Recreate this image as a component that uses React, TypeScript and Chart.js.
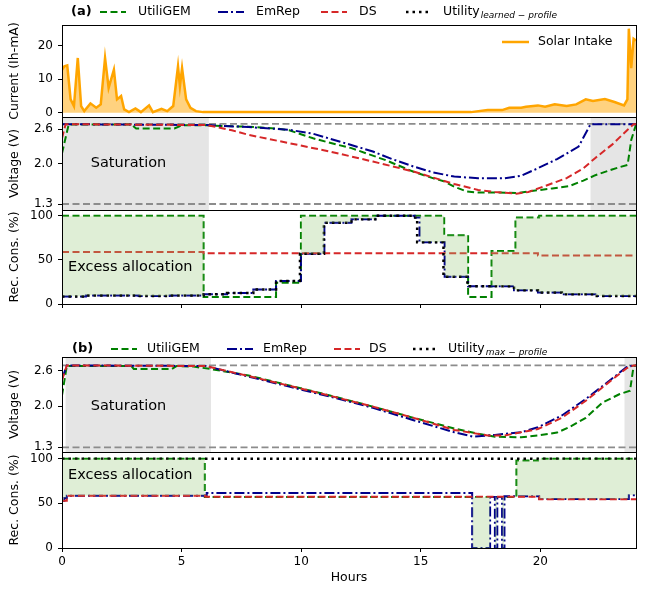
import React, { useEffect, useRef } from "react";
import { Chart, registerables } from "chart.js";
Chart.register(...registerables);

const W = 646;
const H = 592;
const X_LEFT = 62;
const X_RIGHT = 636;
const FONT = "'DejaVu Sans', sans-serif";

// ---------- data ----------
const xTickValues = [0, 5, 10, 15, 20];
const currentTicks = [0, 10, 20];
const voltageTicks = [1.3, 2.0, 2.6];
const recTicks = [0, 50, 100];

const solarHours = [0, 0.1, 0.22, 0.36, 0.5, 0.66, 0.8, 0.93, 1.19, 1.43, 1.62, 1.8, 1.95, 2.17, 2.3, 2.47, 2.6, 2.8, 3.07, 3.3, 3.64, 3.8, 4.16, 4.4, 4.65, 4.85, 4.93, 5.02, 5.19, 5.37, 5.6, 5.9, 8, 12, 16, 17.1, 17.8, 18.4, 18.7, 19.2, 19.4, 19.9, 20.2, 20.6, 21.1, 21.5, 21.9, 22.2, 22.7, 23.1, 23.5, 23.64, 23.7, 23.8, 23.9, 24];
const solarCurrent = [12.8, 13.8, 14.1, 4, 2, 16.3, 2, 0.5, 2.8, 1.5, 2.5, 16.3, 7.4, 12.8, 4, 5, 1, 0.2, 1.3, 0.2, 2.2, 0.2, 1.2, 0.5, 2, 13.8, 7.9, 13.3, 4, 1.5, 0.5, 0.2, 0.2, 0.2, 0.2, 0.2, 0.8, 0.8, 1.5, 1.5, 1.8, 2.2, 1.8, 2.5, 2, 2.5, 4, 3.5, 4.1, 3.2, 2.2, 4, 25, 13.3, 22, 21.5];

const vLimits = [1.3, 2.69];
const saturationA = [[0, 6.14], [22.1, 24]];
const saturationB = [[0.15, 6.23], [23.52, 24]];

const voltAUtiliGEM = [[0, 2.18], [0.28, 2.68], [2.9, 2.68], [3.1, 2.61], [4.7, 2.61], [5.0, 2.665], [6.05, 2.665], [7.8, 2.64], [9.0, 2.61], [9.5, 2.58], [10.5, 2.44], [11.5, 2.33], [12.1, 2.27], [13.5, 2.066], [14.7, 1.86], [15.5, 1.75], [16.0, 1.69], [16.4, 1.6], [16.9, 1.52], [17.3, 1.5], [18.1, 1.5], [19.0, 1.49], [19.9, 1.54], [20.5, 1.57], [21.2, 1.61], [21.8, 1.706], [22.3, 1.8], [23.0, 1.9], [23.65, 1.98], [23.8, 2.41], [24, 2.68]];
const voltAEmRep = [[0, 2.685], [6.05, 2.67], [7.8, 2.635], [9.5, 2.588], [10.5, 2.519], [11.6, 2.385], [13.0, 2.211], [13.8, 2.08], [14.7, 1.95], [15.5, 1.85], [16.4, 1.776], [17.4, 1.747], [18.5, 1.747], [19.2, 1.79], [19.9, 1.921], [20.7, 2.08], [21.6, 2.298], [22.1, 2.685], [24, 2.685]];
const voltADS = [[0, 2.44], [0.15, 2.685], [6.05, 2.67], [7.1, 2.58], [7.8, 2.5], [9.5, 2.356], [11.2, 2.211], [13.0, 2.037], [14.7, 1.863], [16.4, 1.648], [17.4, 1.544], [18.1, 1.51], [19.0, 1.48], [19.5, 1.51], [20.2, 1.613], [21.1, 1.75], [21.8, 1.92], [22.3, 2.1], [23.0, 2.33], [23.65, 2.59], [23.9, 2.685], [24, 2.685]];

const recAUtiliGEM = [[0, 100], [5.92, 8], [8.95, 24], [9.99, 100], [15.98, 78], [16.98, 8], [17.96, 60], [18.96, 98], [19.95, 100], [24, 100]];
const recAEmRep = [[0, 8.5], [1.0, 9.5], [3.2, 9], [4.5, 9.5], [5.92, 11], [6.9, 12.5], [8.0, 16.5], [8.95, 26], [9.99, 57], [10.97, 92], [12.1, 96], [13.1, 100], [14.75, 98], [14.95, 70], [16.0, 31], [16.98, 20], [18.9, 15.5], [19.9, 13], [20.9, 11], [22.3, 9], [24, 9]];
const recADS = [[0, 59], [5.92, 57.5], [19.9, 55], [24, 55]];
const recAUtility = [[0, 8.5], [1.0, 9.5], [3.2, 9], [4.5, 9.5], [5.92, 11], [6.9, 12.5], [8.0, 16.5], [8.95, 26], [9.95, 57], [10.95, 92], [12.1, 96], [13.1, 100], [14.7, 98], [14.85, 70], [15.95, 31], [16.95, 20], [18.9, 15.5], [19.9, 13], [20.9, 11], [22.3, 9], [24, 9]];

const voltBUtiliGEM = [[0, 2.18], [0.2, 2.68], [2.9, 2.68], [3.0, 2.63], [4.6, 2.63], [4.8, 2.68], [5.5, 2.67], [6.2, 2.63], [7.8, 2.52], [9.5, 2.35], [11.2, 2.18], [13.0, 1.99], [14.7, 1.8], [16.4, 1.62], [17.4, 1.53], [18.1, 1.48], [19.2, 1.47], [19.9, 1.5], [20.7, 1.55], [21.2, 1.64], [21.9, 1.8], [22.6, 2.06], [23.3, 2.2], [23.75, 2.26], [23.9, 2.68], [24, 2.69]];
const voltBEmRep = [[0, 2.46], [0.2, 2.69], [6.0, 2.68], [7.8, 2.5], [9.5, 2.33], [11.2, 2.16], [13.0, 1.97], [14.7, 1.76], [16.4, 1.555], [17.2, 1.48], [18.1, 1.51], [19.2, 1.555], [19.9, 1.64], [20.9, 1.84], [21.9, 2.12], [22.7, 2.37], [23.6, 2.66], [23.9, 2.69], [24, 2.69]];
const voltBDS = [[0, 2.44], [0.2, 2.69], [6.0, 2.68], [7.8, 2.51], [9.5, 2.345], [11.2, 2.175], [13.0, 1.99], [14.7, 1.8], [16.4, 1.595], [17.8, 1.5], [18.5, 1.5], [19.9, 1.61], [20.9, 1.8], [21.9, 2.09], [22.7, 2.35], [23.6, 2.64], [23.9, 2.69], [24, 2.69]];

const recBUtiliGEM = [[0, 100], [5.97, 57], [19.0, 98], [19.9, 100], [24, 100]];
const recBEmRep = [[0, 53], [0.1, 56], [0.2, 58.6], [6.05, 61.5], [17.15, 0], [17.9, 57], [18.1, 0], [18.2, 57], [18.4, 0], [18.5, 58], [19.95, 55], [23.7, 59], [24, 59]];
const recBDS = [[0, 53], [0.2, 58.6], [6.0, 57.5], [19.95, 54.5], [24, 54.5]];
const recBUtility = [[0, 100], [24, 100]];

// ---------- styles ----------
const GREEN = "#008000";
const BLUE = "#00008b";
const RED = "#d62728";
const ORANGE = "#ffa500";
const GRAY = "#8c8c8c";
const DASH = [7, 3.5];
const DASHDOT = [10, 3, 2, 3];
const DOT = [2.5, 4];
const EXCESS = "rgba(150,200,120,0.3)";
const SAT = "#e5e5e5";

const pts = (a: number[][]) => a.map(([x, y]) => ({ x, y }));
const ln = (data: number[][], color: string, dash: number[], width = 2, extra: any = {}) => ({
  data: pts(data), borderColor: color, borderDash: dash, borderWidth: width, pointRadius: 0, fill: false, ...extra,
});
const limitLine = (v: number) => ln([[0, v], [24, v]], GRAY, [7, 3.5], 1.8);

type Panel = {
  top: number; bottom: number; ymin: number; ymax: number; yticks: number[]; dec: number;
  ytitle: string; xMode: "none" | "marks" | "labels"; datasets: any[];
  shading?: number[][]; texts?: { t: string; x: number; y: number }[]; legend?: "a" | "b";
};

const font = (s: number, extra = "") => `${extra}${s}px ${FONT}`;

function drawLegend(ctx: CanvasRenderingContext2D, which: "a" | "b") {
  const y = which === "a" ? 12 : 349;
  const pos = which === "a"
    ? { tag: 71, g: [100, 138], b: [218, 256], r: [321, 359], k: [406, 443] }
    : { tag: 72, g: [111, 147], b: [227, 263], r: [334, 369], k: [413, 448] };
  ctx.save();
  ctx.fillStyle = "#000";
  ctx.textBaseline = "middle";
  ctx.textAlign = "left";
  ctx.font = font(13, "bold ");
  ctx.fillText(which === "a" ? "(a)" : "(b)", pos.tag, y);
  const item = (p: number[], color: string, dash: number[], w: number, label: string) => {
    ctx.save();
    ctx.strokeStyle = color; ctx.lineWidth = w; ctx.setLineDash(dash);
    ctx.beginPath(); ctx.moveTo(p[0], y); ctx.lineTo(p[0] + 26, y); ctx.stroke();
    ctx.restore();
    ctx.font = font(12.5);
    ctx.fillText(label, p[1], y);
    return ctx.measureText(label).width;
  };
  item(pos.g, GREEN, DASH, 2, "UtiliGEM");
  item(pos.b, BLUE, DASHDOT, 2, "EmRep");
  item(pos.r, RED, DASH, 2, "DS");
  const w = item(pos.k, "#000", DOT, 2.5, "Utility");
  ctx.font = font(9, "italic ");
  ctx.fillText(which === "a" ? "learned \u2212 profile" : "max \u2212 profile", pos.k[1] + w + 1, y + 4);
  ctx.restore();
}

function makeChart(canvas: HTMLCanvasElement, p: Panel) {
  const xHeight = p.xMode === "labels" ? H - p.bottom : 0;
  const bottomPad = p.xMode === "labels" ? 0 : H - p.bottom;
  const panelPlugin = {
    id: "panelDeco",
    beforeDatasetsDraw(chart: any) {
      if (!p.shading) return;
      const { ctx, chartArea: a, scales } = chart;
      ctx.save();
      ctx.fillStyle = SAT;
      for (const [s, e] of p.shading) {
        const x0 = scales.x.getPixelForValue(s);
        const x1 = scales.x.getPixelForValue(e);
        ctx.fillRect(x0, a.top, x1 - x0, a.bottom - a.top);
      }
      ctx.restore();
    },
    afterDatasetsDraw(chart: any) {
      const { ctx, scales } = chart;
      if (p.texts) {
        ctx.save();
        ctx.fillStyle = "#000";
        ctx.font = font(14.5);
        ctx.textBaseline = "middle";
        ctx.textAlign = "left";
        for (const t of p.texts) ctx.fillText(t.t, scales.x.getPixelForValue(t.x), scales.y.getPixelForValue(t.y));
        ctx.restore();
      }
    },
    afterDraw(chart: any) {
      const { ctx, chartArea: a } = chart;
      ctx.save();
      ctx.strokeStyle = "#000";
      ctx.lineWidth = 1;
      ctx.strokeRect(Math.round(a.left) + 0.5, Math.round(a.top) + 0.5, Math.round(a.right - a.left), Math.round(a.bottom - a.top));
      ctx.restore();
      if (p.legend) drawLegend(ctx, p.legend);
      if (p.legend === "a") {
        ctx.save();
        ctx.strokeStyle = ORANGE; ctx.lineWidth = 2.5;
        ctx.beginPath(); ctx.moveTo(502, 42); ctx.lineTo(529, 42); ctx.stroke();
        ctx.fillStyle = "#000"; ctx.font = font(12.5); ctx.textBaseline = "middle";
        ctx.fillText("Solar Intake", 538, 42);
        ctx.restore();
      }
    },
  };
  return new Chart(canvas, {
    type: "line",
    data: { datasets: p.datasets },
    options: {
      responsive: false,
      animation: false,
      devicePixelRatio: 1,
      events: [],
      layout: { padding: { left: 0, right: W - X_RIGHT, top: p.top, bottom: bottomPad } },
      plugins: { legend: { display: false }, tooltip: { enabled: false } },
      elements: { point: { radius: 0 }, line: { tension: 0 } },
      scales: {
        x: {
          type: "linear", min: 0, max: 24,
          afterFit: (s: any) => { s.height = xHeight; },
          afterBuildTicks: (s: any) => { s.ticks = xTickValues.map((v) => ({ value: v })); },
          grid: { display: p.xMode !== "none", drawOnChartArea: false, drawTicks: true, tickLength: 4, color: "#000" },
          border: { display: false },
          ticks: { display: p.xMode === "labels", font: { family: FONT, size: 12 }, color: "#000", padding: 3, maxRotation: 0, autoSkip: false },
          title: { display: p.xMode === "labels", text: "Hours", font: { family: FONT, size: 12.5 }, color: "#000", padding: { top: 0, bottom: 7 } },
        },
        y: {
          type: "linear", min: p.ymin, max: p.ymax,
          afterFit: (s: any) => { s.width = X_LEFT; },
          afterBuildTicks: (s: any) => { s.ticks = p.yticks.map((v) => ({ value: v })); },
          grid: { drawOnChartArea: false, drawTicks: true, tickLength: 4, color: "#000" },
          border: { display: false },
          ticks: { font: { family: FONT, size: 12 }, color: "#000", padding: 5, callback: (v: any) => Number(v).toFixed(p.dec) },
          title: { display: true, text: p.ytitle, font: { family: FONT, size: 12.5 }, color: "#000", padding: { top: 7, bottom: 0 } },
        },
      },
    } as any,
    plugins: [panelPlugin],
  });
}

const PANELS: Panel[] = [
  {
    top: 25, bottom: 117, ymin: -1.25, ymax: 26.1, yticks: currentTicks, dec: 0, ytitle: "Current (Ih-mA)", xMode: "none", legend: "a",
    datasets: [
      { data: solarHours.map((h, i) => ({ x: h, y: solarCurrent[i] })), borderColor: ORANGE, borderWidth: 2.5, pointRadius: 0, fill: "origin", backgroundColor: "rgba(255,165,0,0.5)" },
    ],
  },
  {
    top: 117, bottom: 210, ymin: 1.196, ymax: 2.81, yticks: voltageTicks, dec: 1, ytitle: "Voltage (V)", xMode: "none",
    shading: saturationA, texts: [{ t: "Saturation", x: 1.2, y: 2.0 }],
    datasets: [
      ln(voltADS, RED, DASH),
      ln(voltAEmRep, BLUE, DASHDOT),
      ln(voltAUtiliGEM, GREEN, DASH),
      limitLine(vLimits[1]),
      limitLine(vLimits[0]),
    ],
  },
  {
    top: 210, bottom: 304, ymin: 0, ymax: 106.5, yticks: recTicks, dec: 0, ytitle: "Rec. Cons. (%)", xMode: "marks",
    texts: [{ t: "Excess allocation", x: 0.25, y: 42 }],
    datasets: [
      ln(recAUtiliGEM, "rgba(0,0,0,0)", [], 1, { stepped: true, fill: { target: 3, above: EXCESS, below: "rgba(0,0,0,0)" } }),
      ln(recAUtility, "#000", DOT, 2.5, { stepped: true }),
      ln(recADS, RED, DASH, 2, { stepped: true }),
      ln(recAEmRep, BLUE, DASHDOT, 2, { stepped: true }),
      ln(recAUtiliGEM, GREEN, DASH, 2, { stepped: true }),
    ],
  },
  {
    top: 357, bottom: 452, ymin: 1.22, ymax: 2.833, yticks: voltageTicks, dec: 1, ytitle: "Voltage (V)", xMode: "none", legend: "b",
    shading: saturationB, texts: [{ t: "Saturation", x: 1.2, y: 2.0 }],
    datasets: [
      ln(voltBDS, RED, DASH),
      ln(voltBEmRep, BLUE, DASHDOT),
      ln(voltBUtiliGEM, GREEN, DASH),
      limitLine(vLimits[1]),
      limitLine(vLimits[0]),
    ],
  },
  {
    top: 452, bottom: 548, ymin: 0, ymax: 107.5, yticks: recTicks, dec: 0, ytitle: "Rec. Cons. (%)", xMode: "labels",
    texts: [{ t: "Excess allocation", x: 0.25, y: 82 }],
    datasets: [
      ln(recBUtiliGEM, "rgba(0,0,0,0)", [], 1, { stepped: true, fill: { target: 3, above: EXCESS, below: "rgba(0,0,0,0)" } }),
      ln(recBUtility, "#000", DOT, 2.5, { stepped: true }),
      ln(recBDS, RED, DASH, 2, { stepped: true }),
      ln(recBEmRep, BLUE, DASHDOT, 2, { stepped: true }),
      ln(recBUtiliGEM, GREEN, DASH, 2, { stepped: true }),
    ],
  },
];

export default function App() {
  const refs = useRef<(HTMLCanvasElement | null)[]>([]);
  useEffect(() => {
    const charts = PANELS.map((p, i) => makeChart(refs.current[i]!, p));
    return () => charts.forEach((c) => c.destroy());
  }, []);
  return (
    <div style={{ position: "absolute", left: 0, top: 0, width: W, height: H, background: "#fff" }}>
      {PANELS.map((_, i) => (
        <canvas key={i} ref={(el) => { refs.current[i] = el; }} width={W} height={H} style={{ position: "absolute", left: 0, top: 0, width: W, height: H }} />
      ))}
    </div>
  );
}
